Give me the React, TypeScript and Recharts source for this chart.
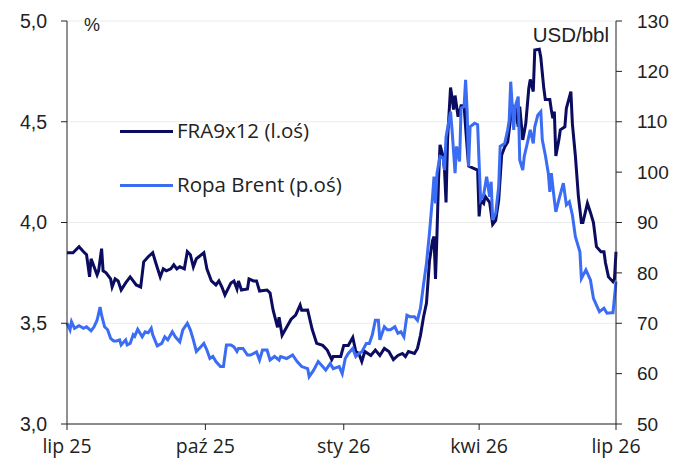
import { LineChart, Line, XAxis, YAxis, CartesianGrid } from "recharts"

// FRA9x12 (left axis, %)
const fraDates = [
  "2025-07-01", "2025-07-05", "2025-07-09", "2025-07-12", "2025-07-14", "2025-07-16", "2025-07-17", "2025-07-19",
  "2025-07-21", "2025-07-22", "2025-07-24", "2025-07-25", "2025-07-27", "2025-07-30", "2025-07-31", "2025-08-02",
  "2025-08-04", "2025-08-06", "2025-08-09", "2025-08-12", "2025-08-14", "2025-08-16", "2025-08-19", "2025-08-21",
  "2025-08-24", "2025-08-27", "2025-08-29", "2025-09-01", "2025-09-03", "2025-09-05", "2025-09-08", "2025-09-10",
  "2025-09-12", "2025-09-14", "2025-09-17", "2025-09-19", "2025-09-21", "2025-09-23", "2025-09-25", "2025-09-30",
  "2025-10-02", "2025-10-05", "2025-10-08", "2025-10-10", "2025-10-12", "2025-10-14", "2025-10-18", "2025-10-20",
  "2025-10-22", "2025-10-23", "2025-10-25", "2025-10-29", "2025-10-30", "2025-11-02", "2025-11-04", "2025-11-06",
  "2025-11-11", "2025-11-13", "2025-11-15", "2025-11-18", "2025-11-19", "2025-11-21", "2025-11-24", "2025-11-27",
  "2025-11-30", "2025-12-03", "2025-12-04", "2025-12-08", "2025-12-11", "2025-12-14", "2025-12-18", "2025-12-21",
  "2025-12-24", "2025-12-25", "2025-12-30", "2026-01-01", "2026-01-04", "2026-01-07", "2026-01-09", "2026-01-11",
  "2026-01-13", "2026-01-15", "2026-01-19", "2026-01-22", "2026-01-25", "2026-01-28", "2026-01-31", "2026-02-03",
  "2026-02-06", "2026-02-09", "2026-02-11", "2026-02-13", "2026-02-17", "2026-02-19", "2026-02-21", "2026-02-23",
  "2026-02-25", "2026-02-27", "2026-03-01", "2026-03-02", "2026-03-03", "2026-03-04", "2026-03-05", "2026-03-06",
  "2026-03-08", "2026-03-09", "2026-03-10", "2026-03-11", "2026-03-13", "2026-03-14", "2026-03-15", "2026-03-16",
  "2026-03-18", "2026-03-20", "2026-03-22", "2026-03-23", "2026-03-24", "2026-03-25", "2026-03-28", "2026-03-31",
  "2026-04-01", "2026-04-02", "2026-04-04", "2026-04-05", "2026-04-08", "2026-04-10", "2026-04-12", "2026-04-14",
  "2026-04-16", "2026-04-18", "2026-04-20", "2026-04-21", "2026-04-22", "2026-04-24", "2026-04-25", "2026-04-27",
  "2026-04-28", "2026-04-30", "2026-05-02", "2026-05-04", "2026-05-05", "2026-05-07", "2026-05-08", "2026-05-11",
  "2026-05-12", "2026-05-14", "2026-05-15", "2026-05-18", "2026-05-19", "2026-05-20", "2026-05-21", "2026-05-22",
  "2026-05-24", "2026-05-25", "2026-05-28", "2026-05-29", "2026-06-01", "2026-06-02", "2026-06-04", "2026-06-06",
  "2026-06-08", "2026-06-09", "2026-06-12", "2026-06-14", "2026-06-16", "2026-06-18", "2026-06-21", "2026-06-23",
  "2026-06-24", "2026-06-26", "2026-06-29", "2026-06-30", "2026-07-01",
]
const fraValues = [
  3.85, 3.85, 3.88, 3.855, 3.84, 3.73, 3.82, 3.78,
  3.74, 3.76, 3.87, 3.76, 3.75, 3.72, 3.68, 3.72,
  3.71, 3.665, 3.70, 3.73, 3.71, 3.69, 3.68, 3.805,
  3.83, 3.85, 3.80, 3.73, 3.77, 3.76, 3.77, 3.79,
  3.77, 3.78, 3.77, 3.855, 3.84, 3.78, 3.82, 3.85,
  3.77, 3.71, 3.69, 3.71, 3.68, 3.64, 3.70, 3.71,
  3.67, 3.71, 3.665, 3.67, 3.72, 3.71, 3.71, 3.66,
  3.665, 3.65, 3.566, 3.48, 3.53, 3.44, 3.48, 3.52,
  3.54, 3.59, 3.565, 3.566, 3.47, 3.40, 3.39, 3.367,
  3.32, 3.335, 3.335, 3.39, 3.39, 3.43, 3.36, 3.35,
  3.31, 3.36, 3.34, 3.367, 3.34, 3.375, 3.36, 3.32,
  3.34, 3.35, 3.335, 3.36, 3.35, 3.375, 3.44, 3.53,
  3.60, 3.81, 3.91, 3.93, 3.72, 3.946, 4.21, 4.385,
  4.33, 4.26, 4.10, 4.41, 4.67, 4.62, 4.56, 4.63,
  4.525, 4.58, 4.58, 4.475, 4.375, 4.28, 4.27, 4.26,
  4.03, 4.11, 4.095, 4.13, 4.10, 3.99, 4.01, 4.11,
  4.335, 4.375, 4.40, 4.46, 4.52, 4.575, 4.57, 4.475,
  4.575, 4.41, 4.49, 4.665, 4.71, 4.65, 4.856, 4.86,
  4.82, 4.666, 4.61, 4.61, 4.56, 4.517, 4.55, 4.33,
  4.41, 4.46, 4.475, 4.567, 4.65, 4.49, 4.33, 4.13,
  4.00, 4.00, 4.095, 4.05, 4.00, 3.88, 3.855, 3.855,
  3.80, 3.73, 3.706, 3.72, 3.855,
]

// Brent crude (right axis, USD/bbl)
const brentDates = [
  "2025-07-01", "2025-07-03", "2025-07-04", "2025-07-06", "2025-07-09", "2025-07-12", "2025-07-14", "2025-07-17",
  "2025-07-19", "2025-07-21", "2025-07-23", "2025-07-24", "2025-07-26", "2025-07-28", "2025-07-30", "2025-08-01",
  "2025-08-03", "2025-08-05", "2025-08-06", "2025-08-09", "2025-08-10", "2025-08-12", "2025-08-14", "2025-08-15",
  "2025-08-17", "2025-08-20", "2025-08-22", "2025-08-24", "2025-08-26", "2025-08-27", "2025-08-30", "2025-09-02",
  "2025-09-04", "2025-09-06", "2025-09-09", "2025-09-11", "2025-09-14", "2025-09-16", "2025-09-19", "2025-09-21",
  "2025-09-23", "2025-09-25", "2025-09-28", "2025-09-30", "2025-10-02", "2025-10-04", "2025-10-06", "2025-10-08",
  "2025-10-11", "2025-10-13", "2025-10-15", "2025-10-18", "2025-10-20", "2025-10-22", "2025-10-23", "2025-10-26",
  "2025-10-29", "2025-10-31", "2025-11-02", "2025-11-04", "2025-11-06", "2025-11-08", "2025-11-11", "2025-11-13",
  "2025-11-16", "2025-11-19", "2025-11-20", "2025-11-24", "2025-11-28", "2025-12-01", "2025-12-04", "2025-12-08",
  "2025-12-09", "2025-12-12", "2025-12-15", "2025-12-18", "2025-12-20", "2025-12-23", "2025-12-25", "2025-12-29",
  "2025-12-31", "2026-01-02", "2026-01-04", "2026-01-07", "2026-01-09", "2026-01-11", "2026-01-13", "2026-01-16",
  "2026-01-18", "2026-01-20", "2026-01-22", "2026-01-24", "2026-01-25", "2026-01-28", "2026-01-30", "2026-02-01",
  "2026-02-04", "2026-02-06", "2026-02-08", "2026-02-10", "2026-02-12", "2026-02-14", "2026-02-17", "2026-02-19",
  "2026-02-21", "2026-02-23", "2026-02-25", "2026-02-27", "2026-03-01", "2026-03-02", "2026-03-03", "2026-03-04",
  "2026-03-06", "2026-03-08", "2026-03-09", "2026-03-10", "2026-03-13", "2026-03-14", "2026-03-16", "2026-03-17",
  "2026-03-19", "2026-03-20", "2026-03-22", "2026-03-23", "2026-03-24", "2026-03-25", "2026-03-26", "2026-03-29",
  "2026-03-31", "2026-04-01", "2026-04-02", "2026-04-04", "2026-04-06", "2026-04-08", "2026-04-09", "2026-04-10",
  "2026-04-12", "2026-04-14", "2026-04-15", "2026-04-18", "2026-04-20", "2026-04-21", "2026-04-22", "2026-04-24",
  "2026-04-25", "2026-04-27", "2026-04-28", "2026-04-30", "2026-05-01", "2026-05-03", "2026-05-05", "2026-05-07",
  "2026-05-08", "2026-05-10", "2026-05-12", "2026-05-13", "2026-05-15", "2026-05-17", "2026-05-18", "2026-05-19",
  "2026-05-21", "2026-05-22", "2026-05-24", "2026-05-27", "2026-05-29", "2026-05-31", "2026-06-02", "2026-06-04",
  "2026-06-07", "2026-06-08", "2026-06-11", "2026-06-14", "2026-06-16", "2026-06-18", "2026-06-20", "2026-06-23",
  "2026-06-25", "2026-06-28", "2026-06-29", "2026-07-01",
]
const brentValues = [
  70.0, 68.7, 70.3, 69.0, 69.5, 69.0, 69.3, 68.5,
  69.3, 70.6, 73.2, 71.6, 69.3, 68.7, 67.0, 66.5,
  66.5, 66.7, 65.7, 66.7, 65.7, 66.0, 67.7, 67.4,
  68.8, 67.3, 68.3, 68.1, 69.0, 67.7, 65.5, 66.0,
  67.3, 66.7, 68.3, 67.3, 66.3, 68.7, 70.0, 68.7,
  66.7, 64.4, 65.35, 66.0, 64.7, 63.0, 63.4, 62.4,
  61.4, 61.4, 65.7, 65.7, 65.3, 64.4, 65.0, 65.0,
  63.7, 63.7, 64.0, 64.3, 62.7, 64.7, 64.7, 62.7,
  63.4, 62.7, 63.4, 63.0, 63.7, 62.4, 61.4, 61.0,
  59.4, 60.7, 62.4, 61.4, 60.7, 62.0, 61.0, 61.4,
  60.0, 63.0, 64.0, 65.0, 63.4, 64.0, 64.3, 66.0,
  66.0, 67.7, 70.6, 70.6, 66.7, 69.3, 68.7, 68.7,
  69.3, 68.0, 68.3, 67.3, 71.6, 71.3, 71.3, 70.6,
  73.0, 77.6, 81.9, 88.0, 95.0, 99.1, 93.8, 99.8,
  103.1, 102.8, 100.4, 107.0, 112.0, 108.4, 99.8, 105.1,
  102.1, 112.7, 113.0, 118.3, 112.3, 101.1, 109.0, 109.7,
  109.4, 101.75, 94.5, 95.5, 99.1, 95.1, 98.1, 90.5,
  91.8, 97.1, 105.1, 105.7, 108.4, 110.3, 117.95, 108.4,
  113.0, 115.0, 102.4, 100.4, 103.1, 105.7, 108.4, 105.7,
  109.0, 111.3, 112.0, 106.4, 103.4, 99.8, 96.1, 99.8,
  94.5, 92.1, 94.5, 97.8, 93.5, 94.1, 91.5, 87.2,
  84.2, 78.9, 80.6, 78.6, 74.95, 73.6, 72.3, 73.0,
  72.0, 72.1, 72.1, 78.25,
]

const xTickDates = ["2025-07-01", "2025-10-01", "2026-01-01", "2026-04-01", "2026-07-01"]
const leftTicks = [3, 3.5, 4, 4.5, 5]
const rightTicks = [50, 60, 70, 80, 90, 100, 110, 120, 130]
const monthsPl = ["sty", "lut", "mar", "kwi", "maj", "cze", "lip", "sie", "wrz", "paź", "lis", "gru"]

const fraData = fraDates.map((d, i) => ({ t: Date.parse(d), v: fraValues[i] }))
const brentData = brentDates.map((d, i) => ({ t: Date.parse(d), v: brentValues[i] }))
const xTicks = xTickDates.map((d) => Date.parse(d))

const fmtDate = (t: number) => {
  const d = new Date(t)
  return monthsPl[d.getUTCMonth()] + " " + String(d.getUTCFullYear()).slice(2)
}

const NAVY = "#0b0b5f"
const BLUE = "#3a6cf4"
const AXIS = "#222"
const font = "'Liberation Sans', Arial, sans-serif"
const roundFont = "'Open Sans', 'Liberation Sans', sans-serif"

const App = () => {
  return (
    <div style={{ position: "absolute", left: 0, top: 0, width: 690, height: 463, background: "#fff", fontFamily: font }}>
      <LineChart width={690} height={463} margin={{ top: 21, right: 14, bottom: 9, left: 0 }}>
        <CartesianGrid yAxisId="left" vertical={false} stroke="#ececec" />
        <XAxis
          dataKey="t"
          type="number"
          domain={[xTicks[0], xTicks[xTicks.length - 1]]}
          ticks={xTicks}
          tickFormatter={fmtDate}
          allowDuplicatedCategory={false}
          height={30}
          tickSize={6}
          tickMargin={9}
          stroke={AXIS}
          tick={{ fill: "#222", fontSize: 19.5, fontFamily: roundFont }}
        />
        <YAxis
          yAxisId="left"
          domain={[3, 5]}
          ticks={leftTicks}
          width={67}
          tickSize={6}
          tickMargin={14}
          stroke={AXIS}
          tickFormatter={(v: number) => v.toFixed(1).replace(".", ",")}
          tick={{ fill: "#222", fontSize: 19.5, fontFamily: font }}
        />
        <YAxis
          yAxisId="right"
          orientation="right"
          domain={[50, 130]}
          ticks={rightTicks}
          width={60}
          tickSize={6}
          tickMargin={15}
          stroke={AXIS}
          tick={{ fill: "#222", fontSize: 19, fontFamily: font, textAnchor: "start" }}
        />
        <Line
          yAxisId="left"
          data={fraData}
          dataKey="v"
          type="linear"
          stroke={NAVY}
          strokeWidth={3}
          dot={false}
          isAnimationActive={false}
        />
        <Line
          yAxisId="right"
          data={brentData}
          dataKey="v"
          type="linear"
          stroke={BLUE}
          strokeWidth={3}
          dot={false}
          isAnimationActive={false}
        />
      </LineChart>

      <div style={{ position: "absolute", left: 84, top: 15, fontSize: 18, color: "#222" }}>%</div>
      <div style={{ position: "absolute", right: 690 - 609, top: 23, fontSize: 20.5, color: "#222" }}>USD/bbl</div>

      <div style={{ position: "absolute", left: 120, top: 130, width: 53, height: 3, background: NAVY }} />
      <div
        style={{ position: "absolute", left: 177, top: 116, fontSize: 20.5, color: "#222", whiteSpace: "nowrap", fontFamily: roundFont }}
      >
        FRA9x12 (l.oś)
      </div>
      <div style={{ position: "absolute", left: 120, top: 184, width: 53, height: 3, background: BLUE }} />
      <div
        style={{ position: "absolute", left: 177, top: 170, fontSize: 20.5, color: "#222", whiteSpace: "nowrap", fontFamily: roundFont }}
      >
        Ropa Brent (p.oś)
      </div>
    </div>
  )
}

export default App
